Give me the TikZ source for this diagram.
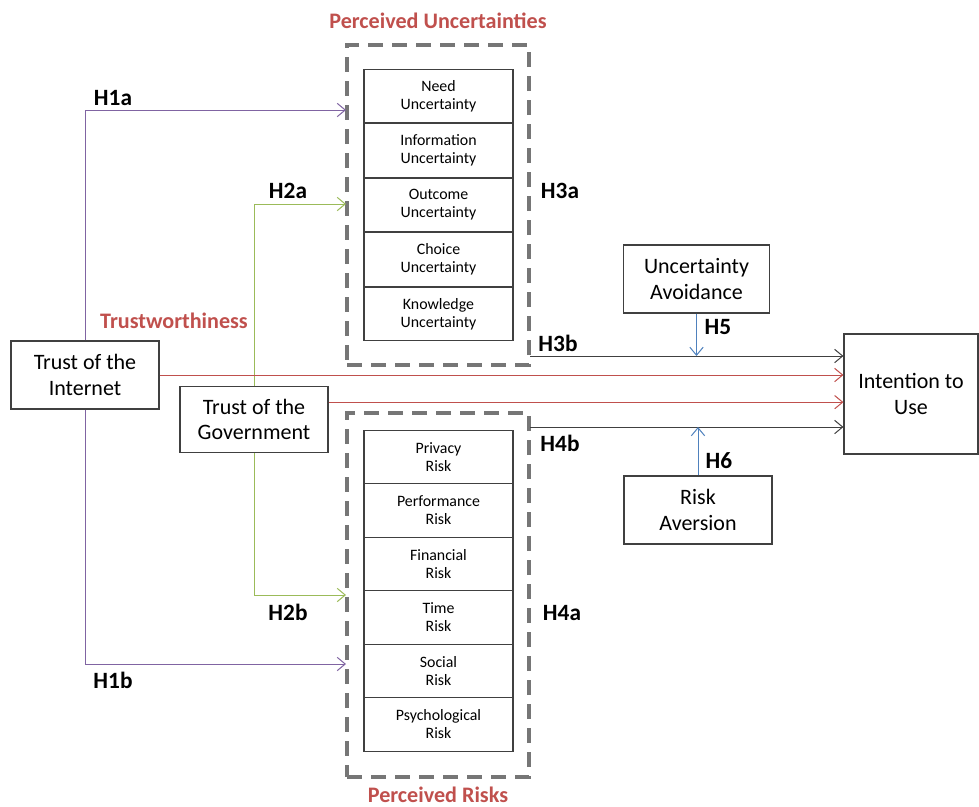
\documentclass[tikz,border=0pt]{standalone}
\usepackage{fontspec}
\setmainfont{Carlito}
\usetikzlibrary{arrows.meta}

\definecolor{hpurple}{RGB}{128,100,162}
\definecolor{hgreen}{RGB}{155,187,89}
\definecolor{hred}{RGB}{192,80,77}
\definecolor{hblue}{RGB}{79,129,189}
\definecolor{hdark}{RGB}{64,64,64}
\definecolor{hgray}{RGB}{118,118,118}

\begin{document}
\begin{tikzpicture}[x=0.75pt,y=0.75pt,yscale=-1,xscale=1,
  box/.style={draw=hdark, line width=0.9pt, align=center, inner sep=0pt,
    minimum width=111pt, minimum height=51pt, font=\fontsize{16.5}{19}\selectfont},
  subbox/.style={draw=hdark, line width=0.9pt, align=center, inner sep=0pt,
    minimum width=111.75pt, minimum height=40pt, font=\fontsize{11.9}{13.5}\selectfont},
  groupbox/.style={draw=hgray, line width=2.6pt, dash pattern=on 11pt off 7pt,
    minimum width=136.5pt, inner sep=0pt},
  hyp/.style={font=\fontsize{17.5}{20}\selectfont\bfseries, inner sep=0.75pt},
  title/.style={font=\fontsize{16.6}{19}\selectfont\bfseries, text=hred, inner sep=0.75pt},
  link/.style={line width=0.75pt, -{Straight Barb[length=6pt,width=10pt]}}]
\useasboundingbox (0,0) rectangle (979,807);

%Shape: Dashed Groups
\node [groupbox, minimum height=240pt] (uncbox) at (438,205) {};
\node [groupbox, minimum height=273pt] (riskbox) at (438,595) {};

%Shape: Perceived Uncertainties
\foreach \name/\txt [count=\i from 0] in {need/Need, info/Information, outcome/Outcome, choice/Choice, knowledge/Knowledge}
  \node [subbox] (\name) at (438.5,96+54.5*\i) {\txt\\Uncertainty};

%Shape: Perceived Risks
\foreach \name/\txt [count=\i from 0] in {privacy/Privacy, performance/Performance, financial/Financial, time/Time, social/Social, psychological/Psychological}
  \node [subbox] (\name) at (438.5,457+53.5*\i) {\txt\\Risk};

%Shape: Main Boxes
\node [box] (internet) at (85,375) {Trust of the\\Internet};
\node [box, minimum height=50pt] (government) at (254,419.5) {Trust of the\\Government};
\node [box, minimum width=100.5pt, minimum height=90pt] (intention) at (911,394) {Intention to\\Use};
\node [box, minimum width=110pt] (avoidance) at (696.5,279) {Uncertainty\\Avoidance};
\node [box] (aversion) at (698,510) {Risk\\Aversion};

%Coordinates on the dashed groups
\coordinate (h1a) at (346,110);
\coordinate (h1b) at (346,664);
\coordinate (h2a) at (346,204);
\coordinate (h2b) at (346,595);
\coordinate (h3b) at (530,356);
\coordinate (h4b) at (530,427);

%Straight Lines
\draw [link, hpurple] (internet.north) |- (h1a);
\draw [link, hpurple] (internet.south) |- (h1b);
\draw [link, hgreen] (government.north) |- (h2a);
\draw [link, hgreen] (government.south) |- (h2b);
\draw [link, hred] (internet.east) -- (internet.east -| intention.west);
\draw [link, hred] ([yshift=-13pt]government.east) coordinate (g1) -- (g1 -| intention.west);
\draw [link, hdark] (h3b) -- (h3b -| intention.west);
\draw [link, hdark] (h4b) -- (h4b -| intention.west);
\draw [link, hblue] (avoidance.south) -- (avoidance.south |- h3b);
\draw [link, hblue] (aversion.north) -- (aversion.north |- h4b);

% Text Node
\node [title] (uncTitle) at (438,21) {Perceived Uncertainties};
% Text Node
\node [title] (riskTitle) at (438,795) {Perceived Risks};
% Text Node
\node [title] (trustTitle) at (174,321) {Trustworthiness};
% Text Node
\node [hyp] (lH1a) at (113,98) {H1a};
\node [hyp] (lH1b) at (113,680) {H1b};
\node [hyp] (lH2a) at (288,191) {H2a};
\node [hyp] (lH2b) at (288,612) {H2b};
\node [hyp] (lH3a) at (560,191) {H3a};
\node [hyp] (lH4a) at (562,613) {H4a};
\node [hyp] (lH3b) at (558,343) {H3b};
\node [hyp] (lH4b) at (560,443) {H4b};
\node [hyp] (lH5) at (718,327) {H5};
\node [hyp] (lH6) at (719,461) {H6};

\end{tikzpicture}
\end{document}
